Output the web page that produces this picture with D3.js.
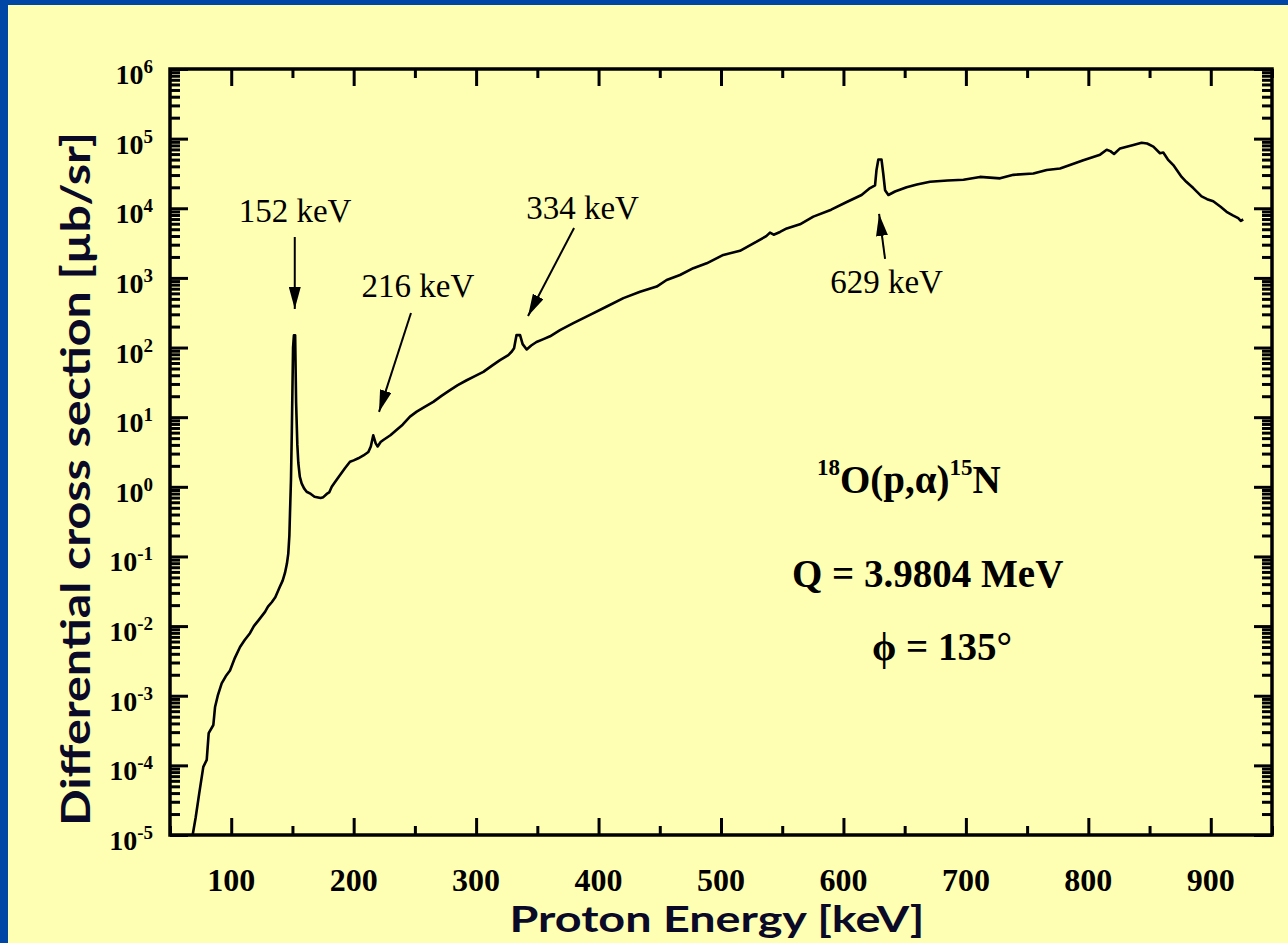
<!DOCTYPE html>
<html>
<head>
<meta charset="utf-8">
<script src="https://cdn.jsdelivr.net/npm/d3@7"></script>
<style>
  html, body { margin: 0; padding: 0; background: #ffffb4; }
  svg { display: block; }
</style>
</head>
<body>
<div id="chart"></div>
<script>
// Proton energy [keV]
const energy = [
  68.5, 71, 73.9, 77.2, 80, 81.6, 85.4, 86.8, 89, 92.2, 95.5, 99, 103, 107.2, 111, 115.3,
  118.5, 122.1, 127.6, 130, 133.1, 136, 139.8, 142, 143.9, 145.5, 146.6, 147.5, 148, 148.8,
  149.5, 150.5, 151.2, 152.2, 153, 154, 154.8, 156, 157.5, 159.5, 161.6, 165, 168, 170, 173,
  175.2, 178, 180, 182.1, 184.8, 188, 193, 197, 200, 203.8, 208, 212, 214, 216, 218, 219.6,
  222, 224.2, 230, 235.2, 240, 246, 251.5, 258, 265, 272, 278.7, 285, 292.3, 299, 305.9, 313,
  319.5, 326.3, 329, 331, 333, 335.9, 338, 341.3, 345, 349.3, 355, 360.4, 368.5, 379.4, 393,
  406.7, 420.3, 433.9, 447.5, 455.6, 466.5, 477.4, 488.3, 501.9, 515.5, 529.1, 537, 540, 543,
  548.2, 553.7, 564.5, 575.4, 590, 602.7, 614.8, 621.7, 625.8, 627, 628.5, 631.1, 632.5, 634,
  636.7, 642.1, 651.6, 660, 670.7, 685, 698, 711.5, 727.9, 738.8, 755.1, 766, 776.9, 785,
  795.9, 809.6, 815, 818, 821, 825.9, 836.8, 843.5, 848, 853.1, 858.5, 861.2, 865, 869.4,
  876.2, 880, 885.7, 892.5, 897, 902, 908, 912.9, 918, 922.4, 924.5, 926.5
];

// Differential cross section [µb/sr]
const crossSection = [
  1.0e-5, 1.8e-5, 4.0e-5, 9.5e-5, 1.2e-4, 2.9e-4, 3.8e-4, 6.9e-4, 1.0e-3, 1.5e-3, 1.9e-3,
  2.3e-3, 3.5e-3, 5.0e-3, 6.3e-3, 7.9e-3, 1.0e-2, 1.2e-2, 1.6e-2, 1.9e-2, 2.2e-2, 2.6e-2,
  3.7e-2, 4.5e-2, 5.8e-2, 7.9e-2, 0.11, 0.20, 0.42, 1.26, 6.3, 100, 150, 150, 16, 4.0, 2.2,
  1.4, 1.12, 0.95, 0.85, 0.79, 0.72, 0.71, 0.69, 0.71, 0.79, 0.83, 1.0, 1.17, 1.41, 1.86,
  2.29, 2.4, 2.57, 2.82, 3.16, 3.8, 5.5, 4.2, 3.8, 4.4, 4.7, 5.5, 6.6, 7.8, 10.2, 12, 14.1,
  16.6, 20.4, 24.5, 28.8, 33.9, 38.9, 44.7, 55, 66, 78, 87, 98, 151, 151, 112, 94, 107, 120,
  132, 145, 178, 224, 295, 389, 513, 631, 750, 933, 1100, 1380, 1620, 2140, 2450, 3310, 3980,
  4470, 4170, 4570, 5130, 5890, 7590, 9550, 12300, 15500, 19500, 21400, 35500, 50100, 50100,
  31600, 18200, 15500, 17400, 20000, 21900, 24000, 25100, 25700, 28200, 26900, 30200, 31600,
  35500, 37200, 41700, 49000, 58900, 69200, 66100, 60300, 72400, 81300, 87100, 85100, 76700,
  61700, 63100, 50100, 41700, 28200, 24000, 19500, 14800, 13500, 12600, 10500, 8900, 7900,
  7200, 6600, 6900
];

const xTickValues = [100, 200, 300, 400, 500, 600, 700, 800, 900];
const xMinorValues = [50, 150, 250, 350, 450, 550, 650, 750, 850, 950];
const yExponents = [-5, -4, -3, -2, -1, 0, 1, 2, 3, 4, 5, 6];

// peak labels: text anchor (E, value), arrow start and arrow tip
const peakLabels = ['152 keV', '216 keV', '334 keV', '629 keV'];
const peakText = [[152.1, 6350], [252.5, 532], [386.9, 7010], [635.2, 607]];
const arrowFrom = [[151.9, 3870], [246.8, 313], [380, 5210], [634, 1870]];
const arrowTo = [[151.9, 358], [220.7, 11.9], [342.4, 284], [629.1, 8280]];

const W = 1288, H = 943;
const plot = { left: 170, right: 1272, top: 69, bottom: 835 };

const svg = d3.select('#chart').append('svg')
  .attr('width', W)
  .attr('height', H)
  .attr('viewBox', `0 0 ${W} ${H}`);

svg.append('rect').attr('width', W).attr('height', H).attr('fill', '#ffffb4');
svg.append('rect').attr('width', W).attr('height', 5).attr('fill', '#0046a6');
svg.append('rect').attr('width', 8).attr('height', H).attr('fill', '#0046a6');

const x = d3.scaleLinear().domain([50, 950]).range([plot.left, plot.right]);
const y = d3.scaleLog().domain([1e-5, 1e6]).range([plot.bottom, plot.top]);

const yMinor = [];
yExponents.slice(0, -1).forEach(e => {
  for (let k = 2; k <= 9; k++) yMinor.push(k * Math.pow(10, e));
});
const yMajor = yExponents.map(e => Math.pow(10, e));

const serif = "'Times New Roman', 'Liberation Serif', serif";
const titleFont = "'Comic Sans MS', Lato, 'DejaVu Sans', sans-serif";

function styleAxis(g, width) {
  g.select('.domain').remove();
  g.selectAll('line').attr('stroke', '#000').attr('stroke-width', width);
  g.selectAll('text').remove();
}

// Axes (ticks point inward on all four sides)
svg.append('g').attr('transform', `translate(0,${plot.bottom})`)
  .call(d3.axisBottom(x).tickValues(xTickValues).tickSize(-17)).call(g => styleAxis(g, 3));
svg.append('g').attr('transform', `translate(0,${plot.bottom})`)
  .call(d3.axisBottom(x).tickValues(xMinorValues).tickSize(-9)).call(g => styleAxis(g, 3));
svg.append('g').attr('transform', `translate(0,${plot.top})`)
  .call(d3.axisTop(x).tickValues(xTickValues).tickSize(-17)).call(g => styleAxis(g, 3));
svg.append('g').attr('transform', `translate(0,${plot.top})`)
  .call(d3.axisTop(x).tickValues(xMinorValues).tickSize(-9)).call(g => styleAxis(g, 3));

svg.append('g').attr('transform', `translate(${plot.left},0)`)
  .call(d3.axisLeft(y).tickValues(yMajor).tickSize(-18)).call(g => styleAxis(g, 3));
svg.append('g').attr('transform', `translate(${plot.left},0)`)
  .call(d3.axisLeft(y).tickValues(yMinor).tickSize(-10)).call(g => styleAxis(g, 3));
svg.append('g').attr('transform', `translate(${plot.right},0)`)
  .call(d3.axisRight(y).tickValues(yMajor).tickSize(-18)).call(g => styleAxis(g, 3));
svg.append('g').attr('transform', `translate(${plot.right},0)`)
  .call(d3.axisRight(y).tickValues(yMinor).tickSize(-10)).call(g => styleAxis(g, 3));

// Frame
svg.append('rect')
  .attr('x', plot.left).attr('y', plot.top)
  .attr('width', plot.right - plot.left).attr('height', plot.bottom - plot.top)
  .attr('fill', 'none').attr('stroke', '#000').attr('stroke-width', 3.5);

// Tick labels
svg.append('g').selectAll('text')
  .data(xTickValues)
  .join('text')
  .attr('x', d => x(d))
  .attr('y', 891)
  .attr('text-anchor', 'middle')
  .style('font-family', serif)
  .style('font-weight', 'bold')
  .style('font-size', '32px')
  .text(d => d);

const yLabels = svg.append('g').selectAll('text')
  .data(yExponents)
  .join('text')
  .attr('x', 153)
  .attr('y', d => y(Math.pow(10, d)) + 15)
  .attr('text-anchor', 'end')
  .style('font-family', serif)
  .style('font-weight', 'bold')
  .style('font-size', '28px');
yLabels.append('tspan').text('10');
yLabels.append('tspan')
  .attr('dy', -11)
  .style('font-size', '19px')
  .text(d => d);

// Axis titles
svg.append('text')
  .attr('x', (plot.left + plot.right) / 2 - 4)
  .attr('y', 932)
  .attr('text-anchor', 'middle')
  .attr('textLength', 415)
  .attr('lengthAdjust', 'spacingAndGlyphs')
  .style('font-family', titleFont)
  .style('font-weight', 'bold')
  .style('font-size', '37px')
  .style('fill', '#0a0a28')
  .text('Proton Energy [keV]');

svg.append('text')
  .attr('transform', 'translate(90,479) rotate(-90)')
  .attr('text-anchor', 'middle')
  .attr('textLength', 694)
  .attr('lengthAdjust', 'spacingAndGlyphs')
  .style('font-family', titleFont)
  .style('font-weight', 'bold')
  .style('font-size', '41px')
  .style('fill', '#0a0a28')
  .text('Differential cross section [µb/sr]');

// Curve
const points = energy.map((e, i) => [e, crossSection[i]]);
svg.append('path')
  .datum(points)
  .attr('fill', 'none')
  .attr('stroke', '#000')
  .attr('stroke-width', 2.6)
  .attr('stroke-linejoin', 'round')
  .attr('d', d3.line().x(d => x(d[0])).y(d => y(d[1])));

// Peak annotations
svg.append('defs').append('marker')
  .attr('id', 'head')
  .attr('viewBox', '0 0 22 12')
  .attr('refX', 22).attr('refY', 6)
  .attr('markerWidth', 22).attr('markerHeight', 12)
  .attr('markerUnits', 'userSpaceOnUse')
  .attr('orient', 'auto')
  .append('path')
  .attr('d', 'M0,0 L22,6 L0,12 Z')
  .attr('fill', '#000');

peakLabels.forEach((label, i) => {
  svg.append('text')
    .attr('x', x(peakText[i][0]))
    .attr('y', y(peakText[i][1]))
    .attr('text-anchor', 'middle')
    .style('font-family', serif)
    .style('font-size', '33px')
    .text(label);
  svg.append('line')
    .attr('x1', x(arrowFrom[i][0])).attr('y1', y(arrowFrom[i][1]))
    .attr('x2', x(arrowTo[i][0])).attr('y2', y(arrowTo[i][1]))
    .attr('stroke', '#000')
    .attr('stroke-width', 2)
    .attr('marker-end', 'url(#head)');
});

// Reaction info
const info = svg.append('g')
  .style('font-family', serif)
  .style('font-weight', 'bold')
  .style('font-size', '39px');

const reaction = info.append('text').attr('x', 817).attr('y', 493);
reaction.append('tspan').attr('dy', -18).style('font-size', '23px').text('18');
reaction.append('tspan').attr('dy', 18).text('O(p,α)');
reaction.append('tspan').attr('dy', -18).style('font-size', '23px').text('15');
reaction.append('tspan').attr('dy', 18).text('N');

info.append('text').attr('x', 792).attr('y', 587).text('Q = 3.9804 MeV');
info.append('text').attr('x', 872).attr('y', 660).text('ϕ = 135°');
</script>
</body>
</html>
